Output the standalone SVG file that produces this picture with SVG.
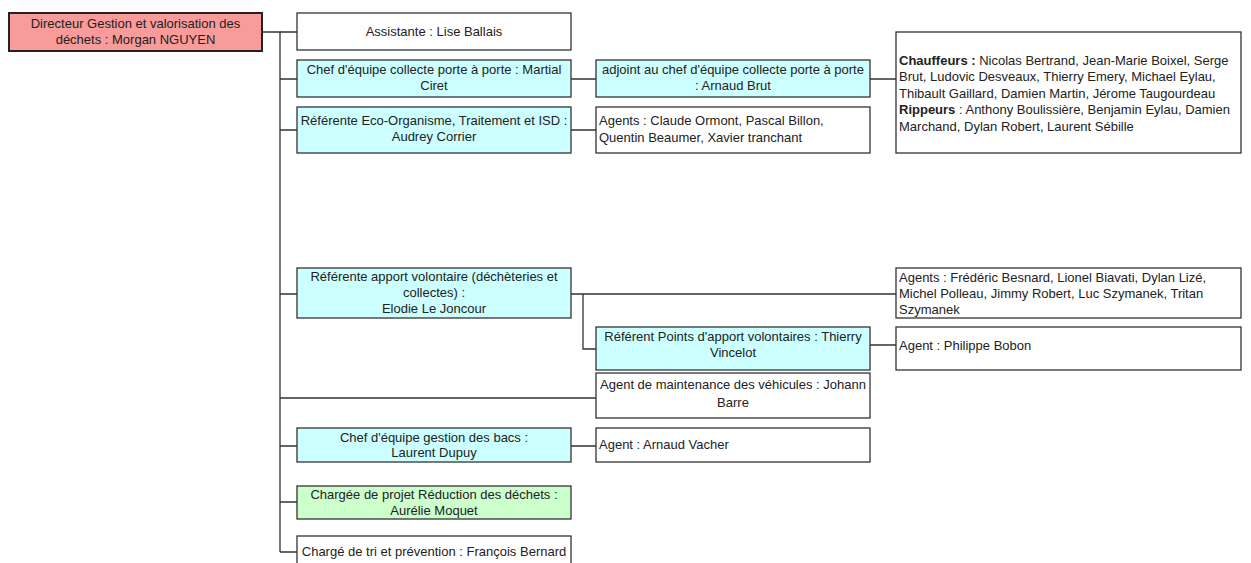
<svg xmlns="http://www.w3.org/2000/svg" width="1251" height="563" viewBox="0 0 1251 563">
<style>
.box{stroke:#333;stroke-width:1.3;fill:#fff}
.cy{fill:#ccffff}
.gr{fill:#ccffcc}
.dir{fill:#f79b9b;stroke:#222;stroke-width:2}
text{font-family:"Liberation Sans",Arial,sans-serif;font-size:13px;fill:#222}
.c{text-anchor:middle}
.b{font-weight:bold}
.ln{stroke:#333;stroke-width:1.3;fill:none}
</style>
<rect width="1251" height="563" fill="#fff"/>
<g id="connectors">
<path class="ln" d="M262 32H280V552"/>
<path class="ln" d="M280 32H297M280 79H297M280 130H297M280 294H297M280 398H596M280 446H297M280 502H297M280 552H297"/>
<path class="ln" d="M571 79H596M571 130H596M870 79H896"/>
<path class="ln" d="M571 294H896M583 294V349H596M870 345H896M571 446H596"/>
</g>
<g id="n-directeur"><rect class="dir" x="9" y="13" width="253" height="38"/>
<text class="c" x="135.5" y="28">Directeur Gestion et valorisation des</text>
<text class="c" x="135.5" y="44">déchets : Morgan NGUYEN</text></g>
<g id="n-assistante"><rect class="box" x="297" y="13" width="274" height="37"/>
<text class="c" x="434" y="36">Assistante : Lise Ballais</text></g>
<g id="n-chef-collecte"><rect class="box cy" x="297" y="60" width="274" height="37"/>
<text class="c" x="434" y="74">Chef d'équipe collecte porte à porte : Martial</text>
<text class="c" x="434" y="90">Ciret</text></g>
<g id="n-referente-eco"><rect class="box cy" x="297" y="107" width="274" height="46"/>
<text class="c" x="434" y="125">Référente Eco-Organisme, Traitement et ISD :</text>
<text class="c" x="434" y="141">Audrey Corrier</text></g>
<g id="n-adjoint"><rect class="box cy" x="596" y="60" width="274" height="37"/>
<text class="c" x="733" y="74">adjoint au chef d'équipe collecte porte à porte</text>
<text class="c" x="733" y="90">: Arnaud Brut</text></g>
<g id="n-agents-claude"><rect class="box" x="596" y="107" width="274" height="46"/>
<text x="599" y="125">Agents : Claude Ormont, Pascal Billon,</text>
<text x="599" y="142">Quentin Beaumer, Xavier tranchant</text></g>
<g id="n-chauffeurs"><rect class="box" x="896" y="32" width="345" height="121"/>
<text x="899" y="65"><tspan class="b">Chauffeurs :</tspan> Nicolas Bertrand, Jean-Marie Boixel, Serge</text>
<text x="899" y="81">Brut, Ludovic Desveaux, Thierry Emery, Michael Eylau,</text>
<text x="899" y="98">Thibault Gaillard, Damien Martin, Jérome Taugourdeau</text>
<text x="899" y="114"><tspan class="b">Rippeurs</tspan> : Anthony Boulissière, Benjamin Eylau, Damien</text>
<text x="899" y="131">Marchand, Dylan Robert, Laurent Sébille</text></g>
<g id="n-referente-apport"><rect class="box cy" x="297" y="268" width="274" height="50"/>
<text class="c" x="434" y="281">Référente apport volontaire (déchèteries et</text>
<text class="c" x="434" y="297">collectes) :</text>
<text class="c" x="434" y="313">Elodie Le Joncour</text></g>
<g id="n-agents-frederic"><rect class="box" x="896" y="268" width="345" height="50"/>
<text x="899" y="281.5">Agents : Frédéric Besnard, Lionel Biavati, Dylan Lizé,</text>
<text x="899" y="298">Michel Polleau, Jimmy Robert, Luc Szymanek, Tritan</text>
<text x="899" y="314">Szymanek</text></g>
<g id="n-referent-points"><rect class="box cy" x="596" y="327" width="274" height="43"/>
<text class="c" x="733" y="341">Référent Points d'apport volontaires : Thierry</text>
<text class="c" x="733" y="357">Vincelot</text></g>
<g id="n-agent-philippe"><rect class="box" x="896" y="327" width="345" height="43"/>
<text x="899" y="350">Agent : Philippe Bobon</text></g>
<g id="n-maintenance"><rect class="box" x="596" y="373" width="274" height="45"/>
<text class="c" x="733" y="389">Agent de maintenance des véhicules : Johann</text>
<text class="c" x="733" y="407">Barre</text></g>
<g id="n-chef-bacs"><rect class="box cy" x="297" y="428" width="274" height="34"/>
<text class="c" x="434" y="442">Chef d'équipe gestion des bacs :</text>
<text class="c" x="434" y="457">Laurent Dupuy</text></g>
<g id="n-agent-arnaud"><rect class="box" x="596" y="428" width="274" height="34"/>
<text x="599" y="449">Agent : Arnaud Vacher</text></g>
<g id="n-chargee-projet"><rect class="box gr" x="297" y="486" width="274" height="33"/>
<text class="c" x="434" y="499">Chargée de projet Réduction des déchets :</text>
<text class="c" x="434" y="515">Aurélie Moquet</text></g>
<g id="n-charge-tri"><rect class="box" x="297" y="536" width="274" height="40"/>
<text class="c" x="434" y="556">Chargé de tri et prévention : François Bernard</text></g>
</svg>
